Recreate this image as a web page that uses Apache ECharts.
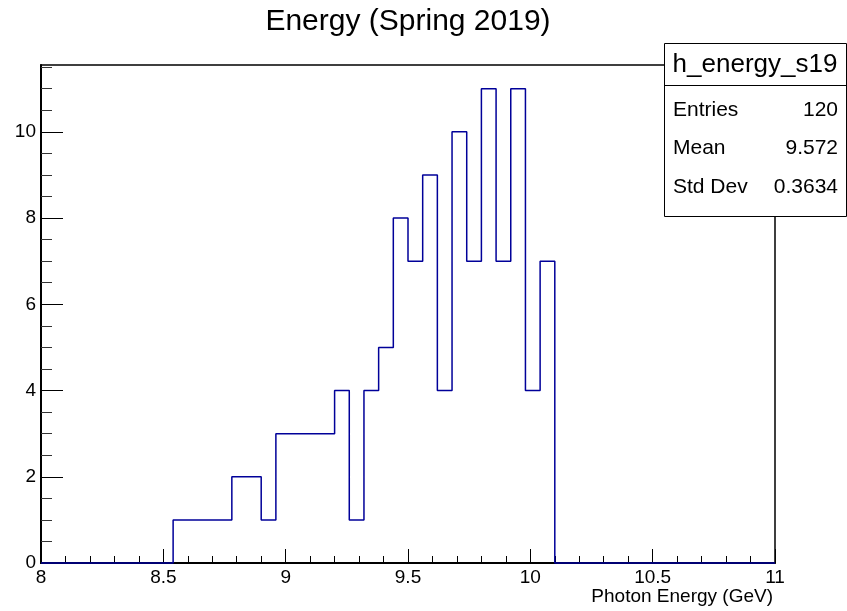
<!DOCTYPE html>
<html>
<head>
<meta charset="utf-8">
<script src="https://cdn.jsdelivr.net/npm/echarts@6/dist/echarts.min.js"></script>
<style>html,body{margin:0;padding:0;background:#fff}#c{width:847px;height:611px}</style>
</head>
<body>
<div id="c"></div>
<script>
// Histogram: 50 bins from 8 to 11 GeV (bin width 0.06)
const xMin = 8, xMax = 11, nBins = 50;
const counts = [0,0,0,0,0,0,0,0,0,
  1,1,1,1, 2,2, 1, 3,3,3,3, 4, 1, 4, 5, 8, 7, 9, 4, 10, 7, 11, 7, 11, 4, 7,
  0,0,0,0,0,0,0,0,0,0,0,0,0,0,0];
const yMax = 11.55;
const xTickValues = [8, 8.5, 9, 9.5, 10, 10.5, 11];
const yLabelValues = [0, 2, 4, 6, 8, 10];
const yMinorValues = [0.5,1,1.5,2.5,3,3.5,4.5,5,5.5,6.5,7,7.5,8.5,9,9.5,10.5,11,11.5];
const titleText = 'Energy (Spring 2019)';
const xTitle = 'Photon Energy (GeV)';
const statsName = 'h_energy_s19';
const statsRows = [['Entries', '120'], ['Mean', '9.572'], ['Std Dev', '0.3634']];

const binWidth = (xMax - xMin) / nBins;
const stepData = counts.map((c, i) => [+(xMin + i * binWidth).toFixed(4), c]);
stepData.push([xMax, counts[counts.length - 1]]);

const FONT = '"Liberation Sans", Arial, Helvetica, sans-serif';
const chart = echarts.init(document.getElementById('c'), null, {renderer: 'canvas'});

const statsGraphics = [
  {type: 'rect', shape: {x: 664.5, y: 43.5, width: 182, height: 173}, style: {fill: '#fff', stroke: '#000', lineWidth: 1}, z: 100},
  {type: 'line', shape: {x1: 664.5, y1: 85.5, x2: 846.5, y2: 85.5}, style: {stroke: '#000', lineWidth: 1}, z: 101},
  {type: 'text', x: 755, y: 65, style: {text: statsName, font: '26px ' + FONT, fill: '#000', align: 'center', verticalAlign: 'middle'}, z: 101}
];
const rowY = [110, 148, 187];
statsRows.forEach((r, i) => {
  statsGraphics.push({type: 'text', x: 673, y: rowY[i], style: {text: r[0], font: '21px ' + FONT, fill: '#000', align: 'left', verticalAlign: 'middle'}, z: 101});
  statsGraphics.push({type: 'text', x: 838, y: rowY[i], style: {text: r[1], font: '21px ' + FONT, fill: '#000', align: 'right', verticalAlign: 'middle'}, z: 101});
});

chart.setOption({
  animation: false,
  backgroundColor: '#fff',
  grid: {left: 41, right: 72, top: 65, bottom: 48, show: true, borderColor: '#000', borderWidth: 1.5, backgroundColor: 'transparent', containLabel: false, outerBoundsMode: 'none'},
  xAxis: {
    type: 'value', min: xMin, max: xMax, interval: 0.5,
    axisLine: {show: true, onZero: false, lineStyle: {color: '#000', width: 2}},
    axisTick: {show: true, inside: true, length: 14, lineStyle: {color: '#000', width: 1}},
    minorTick: {show: true, splitNumber: 5, length: 7, lineStyle: {color: '#000', width: 1}},
    axisLabel: {show: true, color: '#000', fontSize: 19, fontFamily: FONT, margin: 5, showMaxLabel: true, showMinLabel: true,
      customValues: xTickValues},
    splitLine: {show: false}, minorSplitLine: {show: false}
  },
  yAxis: [{
    type: 'value', min: 0, max: yMax,
    axisLine: {show: true, onZero: false, lineStyle: {color: '#000', width: 2}},
    axisTick: {show: true, inside: true, length: 22, customValues: yLabelValues, lineStyle: {color: '#000', width: 1}},
    axisLabel: {show: true, color: '#000', fontSize: 19, fontFamily: FONT, margin: 5, customValues: yLabelValues},
    splitLine: {show: false}
  }, {
    type: 'value', min: 0, max: yMax, position: 'left',
    axisLine: {show: false},
    axisTick: {show: true, inside: true, length: 11, customValues: yMinorValues, lineStyle: {color: '#333', width: 1}},
    axisLabel: {show: false},
    splitLine: {show: false}
  }],
  series: [{
    type: 'line', step: 'end', data: stepData, showSymbol: false, symbol: 'none',
    xAxisIndex: 0, yAxisIndex: 0, clip: false,
    lineStyle: {color: '#000099', width: 1.5}, z: 5
  }],
  graphic: [
    {type: 'text', x: 408, y: 22, style: {text: titleText, font: '30px ' + FONT, fill: '#000', align: 'center', verticalAlign: 'middle'}},
    {type: 'text', x: 773, y: 597, style: {text: xTitle, font: '19px ' + FONT, fill: '#000', align: 'right', verticalAlign: 'middle'}}
  ].concat(statsGraphics)
});
</script>
</body>
</html>
